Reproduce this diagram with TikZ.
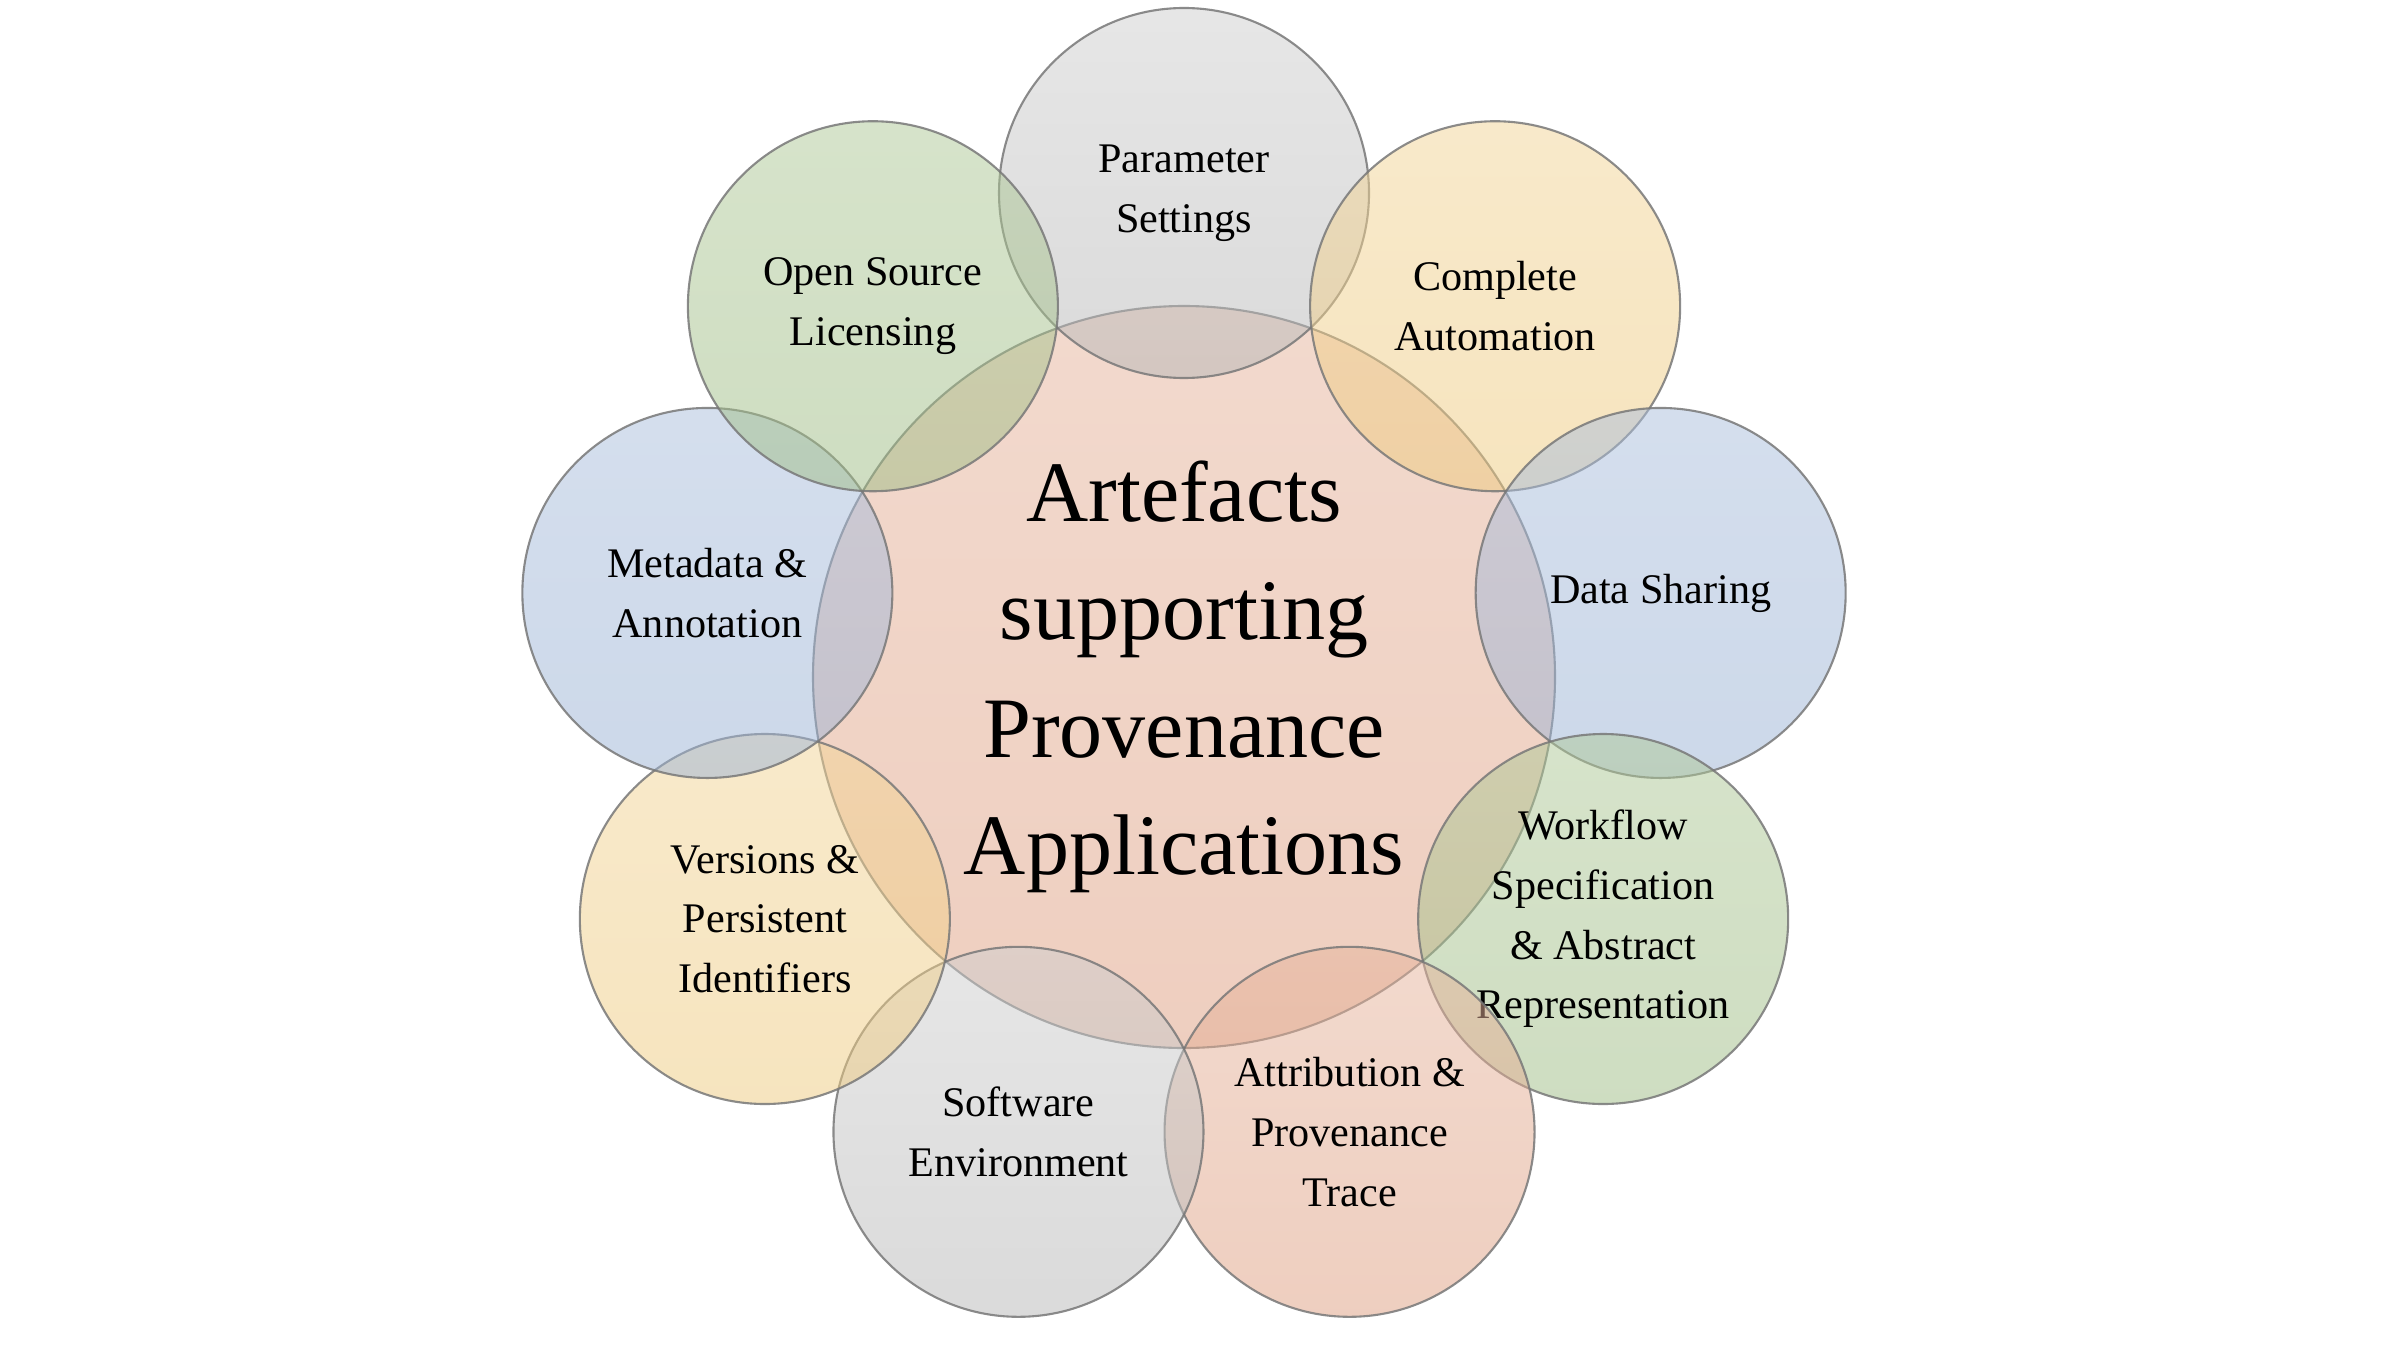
\documentclass[tikz,border=0pt]{standalone}
\usepackage{fontspec}
\setmainfont{Liberation Serif}
\definecolor{pkT}{RGB}{231,181,157}
\definecolor{pkB}{RGB}{223,159,129}
\definecolor{gyT}{RGB}{207,207,207}
\definecolor{gyB}{RGB}{183,183,183}
\definecolor{grT}{RGB}{175,201,151}
\definecolor{grB}{RGB}{159,189,133}
\definecolor{blT}{RGB}{171,191,221}
\definecolor{blB}{RGB}{155,179,213}
\definecolor{ylT}{RGB}{243,213,151}
\definecolor{ylB}{RGB}{239,203,127}
\definecolor{rim}{RGB}{120,120,120}
\begin{document}
\begin{tikzpicture}[x=1cm,y=1cm,
  venn/.style={circle, inner sep=0pt, draw=rim, line width=0.6pt,
    fill opacity=0.5, draw opacity=0.85, text opacity=1, align=center},
  sat/.style={venn, minimum size=3.70cm, font=\fontsize{12}{17}\selectfont},
  hubstyle/.style={venn, minimum size=7.42cm, font=\fontsize{24.5}{33.5}\selectfont},
  pk/.style={top color=pkT, bottom color=pkB},
  gy/.style={top color=gyT, bottom color=gyB},
  gr/.style={top color=grT, bottom color=grB},
  bl/.style={top color=blT, bottom color=blB},
  yl/.style={top color=ylT, bottom color=ylB}]
\useasboundingbox (0,0) rectangle (24,13.5);
\fill[white] (0,0) rectangle (24,13.5);
\coordinate (O) at (11.84,6.73);
\node[hubstyle, pk] (hub) at (O) {Artefacts\\supporting\\Provenance\\Applications};
\node[sat, gy] (s0) at ([shift={(90:4.84)}]O) {Parameter\\Settings};
\node[sat, yl] (s1) at ([shift={(50:4.84)}]O) {Complete\\Automation};
\node[sat, bl] (s2) at ([shift={(10:4.84)}]O) {Data Sharing};
\node[sat, gr] (s3) at ([shift={(-30:4.84)}]O) {Workflow\\Specification\\\& Abstract\\Representation};
\node[sat, pk] (s4) at ([shift={(-70:4.84)}]O) {Attribution \&\\Provenance\\Trace};
\node[sat, gy] (s5) at ([shift={(-110:4.84)}]O) {Software\\Environment};
\node[sat, yl] (s6) at ([shift={(-150:4.84)}]O) {Versions \&\\Persistent\\Identifiers};
\node[sat, bl] (s7) at ([shift={(170:4.84)}]O) {Metadata \&\\Annotation};
\node[sat, gr] (s8) at ([shift={(130:4.84)}]O) {Open Source\\Licensing};
\end{tikzpicture}
\end{document}
